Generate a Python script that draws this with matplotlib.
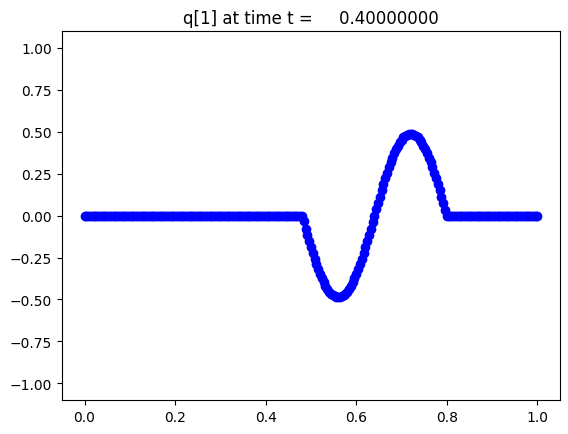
import matplotlib
matplotlib.use("Agg")
import matplotlib.pyplot as plt
import numpy as np

# cell centres and solution q[1] at t = 0.4
t = 0.4
x = np.arange(0, 1.0001, 0.004)
q = np.zeros_like(x)

# wave part, x = 0.48 ... 0.80
wave = [0, -0.034, -0.077, -0.114, -0.151, -0.188, -0.222, -0.256, -0.288, -0.318,
        -0.346, -0.373, -0.396, -0.418, -0.437, -0.453, -0.466, -0.476, -0.482, -0.486,
        -0.487,
        -0.486, -0.482, -0.476, -0.466, -0.453, -0.437, -0.418, -0.396, -0.373, -0.346,
        -0.318, -0.288, -0.256, -0.222, -0.188, -0.151, -0.114, -0.077, -0.038, 0,
        0.038, 0.077, 0.114, 0.151, 0.188, 0.222, 0.256, 0.288, 0.318, 0.346,
        0.373, 0.396, 0.418, 0.437, 0.453, 0.466, 0.476, 0.482, 0.486, 0.487,
        0.486, 0.482, 0.476, 0.466, 0.453, 0.437, 0.418, 0.396, 0.373, 0.346,
        0.318, 0.288, 0.256, 0.222, 0.188, 0.151, 0.114, 0.077, 0.034, 0]
i0 = 120
q[i0:i0 + len(wave)] = wave

fig = plt.figure(figsize=(5.68, 4.35), dpi=100)
ax = fig.add_axes([0.109, 0.078, 0.877, 0.848])
ax.plot(x, q, 'bo')
ax.set_ylim(-1.1, 1.1)
ax.set_title('q[1] at time t = %14.8f' % t)

fig.savefig("out.png", dpi=100)
